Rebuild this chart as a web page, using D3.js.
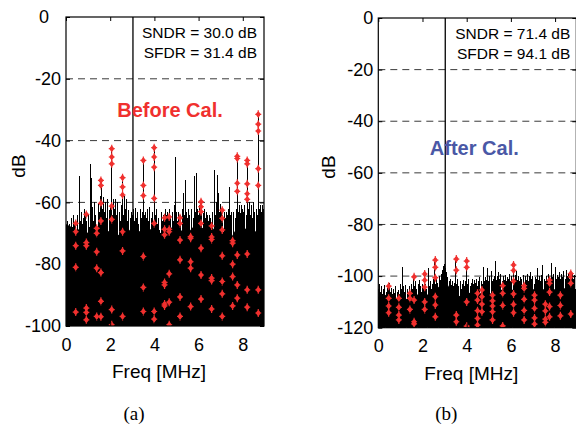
<!DOCTYPE html>
<html>
<head>
<meta charset="utf-8">
<script src="https://cdn.jsdelivr.net/npm/d3@7"></script>
<style>
  body { margin: 0; background: #fff; }
  svg text { font-family: "Liberation Sans", Arial, sans-serif; }
</style>
</head>
<body>
<svg id="chart" width="576" height="426"></svg>
<script>

// spectrum bins, 0.05 MHz apart
var binStep = 0.05;
var fMax = 8.96;
var signalFreq = 3.03;
var xTicks = [0, 2, 4, 6, 8];

// (a) before calibration
var peaksA = [
  -68, -66, -69, -67, -70, -65, -68, -64, -67, -66.5,
  -64, -69, -51.5, -66, -63, -67, -65, -62, -63.8, -66,
  -64, -68, -47.5, -52, -61.5, -66, -60, -64, -68, -60.5,
  -63, -58, -52.7, -62, -58.3, -63, -60, -65, -59, -62.6,
  -61, -42.3, -64, -59, -62, -59, -64, -60, -63, -66,
  -61, -51.8, -64, -57.9, -62, -59, -66, -62.5, -65, -63,
  -64, -62, -66, -61.7, -65, -63, -67, -62, -65, -63,
  -46.4, -64, -63, -65, -62, -66, -61.5, -65, -63, -67,
  -42.1, -64, -62, -67, -65, -69, -63, -66, -64, -65,
  -62, -64, -63, -64.7, -62, -65, -63, -66, -61, -45.3,
  -63, -66, -63, -65, -64, -62, -56.8, -64, -52.7, -63,
  -65, -62, -64, -71, -62, -65, -51.3, -63, -50.5, -62,
  -64, -61, -59.8, -62, -63.5, -62, -65, -63, -64, -66,
  -64, -65, -67.6, -63, -49.6, -64, -60, -51, -57, -63,
  -60.5, -62.5, -64, -63, -65, -63, -64, -62, -55, -64,
  -63, -72.4, -63, -65, -62, -45.1, -63, -61, -63.5, -61,
  -62, -63, -61, -64, -46.4, -62, -60, -64, -61, -65,
  -60, -63, -62, -64, -31.5, -62, -61, -63, -61, -62
];
// solid noise floor, 0.25 MHz apart
var floorStep = 0.25;
var floorA = [
  -67, -68, -69, -68, -70, -69, -68, -70, -69, -71, -70, -68,
  -70, -69, -70, -69, -68, -70, -69, -68, -70, -69, -70, -68,
  -69, -68, -70, -68, -69, -70, -71, -68, -69, -68, -70, -68
];
var markerFreqA = [0.44, 0.92, 1.39, 1.58, 2.07, 2.56, 3.5, 3.99, 4.46, 4.67,
                   5.16, 5.64, 6.11, 6.59, 7.07, 7.54, 7.75, 8.2, 8.7];
var markerDbA = [
  [-66.8, -69.5, -74, -81, -95.5],
  [-63.9, -73, -74, -94.2, -95.6, -98],
  [-68.4, -70, -76, -81.3, -96.9],
  [-52.9, -54.5, -60.3, -66, -82.7, -92, -97],
  [-42.6, -45.3, -47.5, -61.2, -65.5, -94.7, -99.6],
  [-52, -55, -57.6, -69.5, -75.7, -96.9],
  [-46.4, -54.5, -57.8, -77.5, -87.5, -95.3],
  [-42.3, -45.3, -48.6, -58.7, -66.8, -95.3, -97.8],
  [-65, -68.7, -70.5, -85.9, -86.7, -92.9, -93.5],
  [-64.7, -68.7, -69.5, -83.1, -92.3, -99.6],
  [-65, -66.8, -72.2, -78.6, -90.6, -96.9],
  [-71.1, -71.6, -79.2, -81.3, -93.7],
  [-59.8, -61.4, -63, -66.8, -74.8, -83.5, -91.3],
  [-67.6, -71.2, -72, -84.5, -85.3, -94.5],
  [-62.5, -65.2, -68.9, -77.3, -85.6, -89.6, -96.9],
  [-72.4, -73.2, -80, -84, -93.5],
  [-45.1, -45.8, -53.8, -56.4, -77, -86.7, -91],
  [-46.4, -47.5, -54, -57.2, -59, -76.7, -88.3, -93.9],
  [-31.5, -34.7, -36.9, -49.1, -54.5, -88.3, -95.8]
];
var yTicksA = [0, -20, -40, -60, -80, -100];
var statsA = ["SNDR = 30.0 dB", "SFDR = 31.4 dB"];

// (b) after calibration
var peaksB = [
  -105, -103, -106, -104, -107, -105, -103.5, -106, -104.5, -103.5,
  -102.8, -106, -104.5, -107, -105, -106.5, -104, -106, -105.5, -107,
  -103, -105, -96.4, -104, -106, -103.5, -105, -107, -104, -106,
  -103, -105, -99.5, -104, -102, -105, -103, -101.5, -104, -106,
  -103, -104, -99, -103, -105, -97, -104, -102, -105, -103,
  -101, -93.5, -103, -101, -102.5, -100, -101.5, -99, -97.5, -96,
  -95.5, -97, -98.5, -100.5, -102, -101, -103.5, -102, -104, -102.5,
  -92.5, -103, -101, -104, -102, -105, -103, -101.5, -104, -102,
  -94, -103, -101, -104, -102.5, -101, -103, -101.5, -102.5, -101,
  -104, -102, -100.5, -102, -103, -96.6, -102, -100.5, -101.5, -97,
  -102, -100, -98, -102, -101, -100, -94, -101.5, -100, -98.5,
  -101, -99, -102, -100, -101.5, -99.5, -102, -100.5, -101, -99,
  -102, -100, -95.5, -101, -99.5, -98, -101.5, -100, -102, -100.5,
  -101, -99.5, -103, -100, -101.5, -99, -102, -100, -98.5, -101,
  -100, -103, -100.5, -101, -97, -101.5, -100, -102, -99.5, -95.7,
  -101, -102, -100, -101.5, -99, -100.5, -102, -95, -100.5, -99,
  -96.5, -101, -99.5, -100.5, -98.5, -101, -99, -100.5, -98, -101,
  -97.5, -100, -99, -101, -98.5, -100, -99, -101, -99.5, -100
];
var floorB = [
  -108, -107, -108, -109, -108, -109, -108, -107, -108, -107, -106, -104,
  -101, -105, -107, -108, -107, -106, -107, -106, -107, -106, -105, -106,
  -105, -106, -105, -106, -105, -106, -105, -106, -105, -104, -105, -105
];
var markerFreqB = [0.47, 0.93, 1.43, 1.62, 2.1, 2.58, 3.53, 4.0, 4.49, 4.69,
                   5.17, 5.63, 6.12, 6.6, 7.07, 7.56, 7.75, 8.24, 8.71];
var markerDbB = [
  [-103.9, -108.6, -111.6, -114.2],
  [-108.6, -112.1, -115.1, -117],
  [-106.7, -108.6, -112.9],
  [-100.3, -109.3, -117.7, -118.5],
  [-99.2, -101.6, -104.3, -110, -112.9],
  [-93.8, -96.6, -100.6, -108, -111.2, -115.8],
  [-93.4, -97.7, -115.1, -117.7],
  [-94.2, -96.6, -110, -119.4],
  [-106.7, -109.3, -113.4, -116.4, -119],
  [-105.4, -108, -110.9, -113.8],
  [-107.4, -109.6, -111.6, -113.8, -117],
  [-103.7, -106.7, -111.4, -119.3],
  [-95.7, -97.8, -102, -106.9, -111, -114.2],
  [-103.7, -104.8, -109, -113.3, -117],
  [-107.4, -109.3, -112.5, -116.2, -118.6],
  [-110.9, -113.5, -116.7, -117.9],
  [-101.6, -102.8, -106.2, -111.8, -115.8],
  [-107.4, -111.4, -115.4],
  [-99, -100.3, -102.8, -114.7]
];
var yTicksB = [0, -20, -40, -60, -80, -100, -120];
var statsB = ["SNDR = 71.4 dB", "SFDR = 94.1 dB"];

var svg = d3.select("#chart");

function drawPanel(cfg) {

  var w = cfg.width, h = cfg.height;
  var g = svg.append("g").attr("transform", "translate(" + cfg.left + "," + cfg.top + ")");

  var x = d3.scaleLinear().domain([0, fMax]).range([0, w]);
  var y = d3.scaleLinear().domain([cfg.yMin, 0]).range([h, 0]);

  g.append("clipPath").attr("id", "clip" + cfg.id)
    .append("rect").attr("width", w).attr("height", h);

  // dashed grid
  g.selectAll(".grid")
    .data(cfg.yTicks.filter(function(d) { return d < 0 && d > cfg.yMin; }))
    .enter().append("line")
    .attr("x1", 0).attr("x2", w)
    .attr("y1", function(d) { return y(d); })
    .attr("y2", function(d) { return y(d); })
    .style("stroke", "#3a3a3a")
    .style("stroke-width", 1)
    .style("stroke-dasharray", "7,5");

  var plot = g.append("g").attr("clip-path", "url(#clip" + cfg.id + ")");

  // solid noise floor
  var area = d3.area()
    .x(function(d, i) { return x(i * floorStep); })
    .y0(h)
    .y1(function(d) { return y(d); });
  plot.append("path")
    .datum(cfg.floor.concat([cfg.floor[cfg.floor.length - 1]]))
    .attr("d", area)
    .style("fill", "black");

  // spectrum bins
  plot.selectAll(".bin")
    .data(cfg.peaks)
    .enter().append("line")
    .attr("x1", function(d, i) { return x(i * binStep); })
    .attr("x2", function(d, i) { return x(i * binStep); })
    .attr("y1", h)
    .attr("y2", function(d) { return y(d); })
    .attr("shape-rendering", "crispEdges")
    .style("stroke", "black")
    .style("stroke-width", 1);

  // input tone
  plot.append("line")
    .attr("x1", x(signalFreq)).attr("x2", x(signalFreq))
    .attr("y1", h).attr("y2", y(0))
    .style("stroke", "black")
    .style("stroke-width", 1.3);

  // red markers
  var pts = [];
  cfg.markerFreq.forEach(function(f, i) {
    cfg.markerDb[i].forEach(function(v) { pts.push([f, v]); });
  });
  plot.selectAll(".mk")
    .data(pts)
    .enter().append("path")
    .attr("d", function(d) {
      var px = x(d[0]), py = y(d[1]);
      return "M" + px + "," + (py - 4) + "V" + (py + 4) +
             "M" + (px - 3) + "," + py + "H" + (px + 3) +
             "M" + px + "," + (py - 2.6) + "L" + (px + 1.9) + "," + py +
             "L" + px + "," + (py + 2.6) + "L" + (px - 1.9) + "," + py + "Z";
    })
    .style("fill", "#f0302e")
    .style("stroke", "#f0302e")
    .style("stroke-width", 1.2);

  // box + inward ticks
  g.append("rect")
    .attr("width", w).attr("height", h)
    .style("fill", "none")
    .style("stroke", "black")
    .style("stroke-width", 1.2);

  var yAxis = g.append("g")
    .call(d3.axisLeft(y).tickValues(cfg.yTicks).tickSize(-4).tickPadding(5)
      .tickFormat(function(d) { return String(d); }));
  g.append("g").attr("transform", "translate(0," + h + ")")
    .call(d3.axisBottom(x).tickValues(xTicks).tickSize(-4).tickPadding(12)
      .tickFormat(function(d) { return String(d); }));
  g.append("g")
    .call(d3.axisTop(x).tickValues(xTicks).tickSize(-4).tickFormat(""));
  g.append("g").attr("transform", "translate(" + w + ",0)")
    .call(d3.axisRight(y).tickValues(cfg.yTicks).tickSize(-4).tickFormat(""));

  g.selectAll(".domain").remove();
  g.selectAll(".tick line").style("stroke", "black");
  g.selectAll(".tick text")
    .style("font-size", "18px")
    .style("font-family", "'Liberation Sans', Arial, sans-serif")
    .style("fill", "black");
  yAxis.selectAll(".tick text")
    .attr("dx", function(d) { return d === 0 ? cfg.zeroShift : 0; });

  // stats
  g.selectAll(".stat")
    .data(cfg.stats)
    .enter().append("text")
    .attr("x", cfg.statX)
    .attr("y", function(d, i) { return 21 + i * 20; })
    .attr("text-anchor", "end")
    .style("font-size", "15.5px")
    .text(function(d) { return d; });

  g.append("text")
    .attr("x", cfg.noteX).attr("y", cfg.noteY)
    .attr("text-anchor", "middle")
    .style("font-size", "20px")
    .style("font-weight", "bold")
    .style("fill", cfg.noteColor)
    .text(cfg.note);

  g.append("text")
    .attr("transform", "translate(" + cfg.yLabelX + "," + cfg.yLabelY + ") rotate(-90)")
    .attr("text-anchor", "middle")
    .style("font-size", "19px")
    .text("dB");

  g.append("text")
    .attr("x", w / 2 - 6).attr("y", h + 52)
    .attr("text-anchor", "middle")
    .style("font-size", "19px")
    .text("Freq [MHz]");

  // caption baseline fixed at y = 420 on the page
  g.append("text")
    .attr("x", cfg.capX).attr("y", 420 - cfg.top)
    .attr("text-anchor", "middle")
    .style("font-family", "'Liberation Serif', 'Times New Roman', serif")
    .style("font-size", "19px")
    .text(cfg.caption);
}

drawPanel({
  id: "a", left: 66, top: 17, width: 198, height: 309,
  yMin: -100, yTicks: yTicksA,
  peaks: peaksA, floor: floorA, markerFreq: markerFreqA, markerDb: markerDbA,
  stats: statsA, statX: 191,
  note: "Before Cal.", noteColor: "#f0302e", noteX: 104, noteY: 100,
  yLabelX: -41, yLabelY: 149, capX: 68, caption: "(a)", zeroShift: -12
});

drawPanel({
  id: "b", left: 378.3, top: 18, width: 198, height: 309.7,
  yMin: -120, yTicks: yTicksB,
  peaks: peaksB, floor: floorB, markerFreq: markerFreqB, markerDb: markerDbB,
  stats: statsB, statX: 192,
  note: "After Cal.", noteColor: "#4a58a6", noteX: 96, noteY: 137,
  yLabelX: -43, yLabelY: 149, capX: 68, caption: "(b)", zeroShift: 0
});

</script>
</body>
</html>
